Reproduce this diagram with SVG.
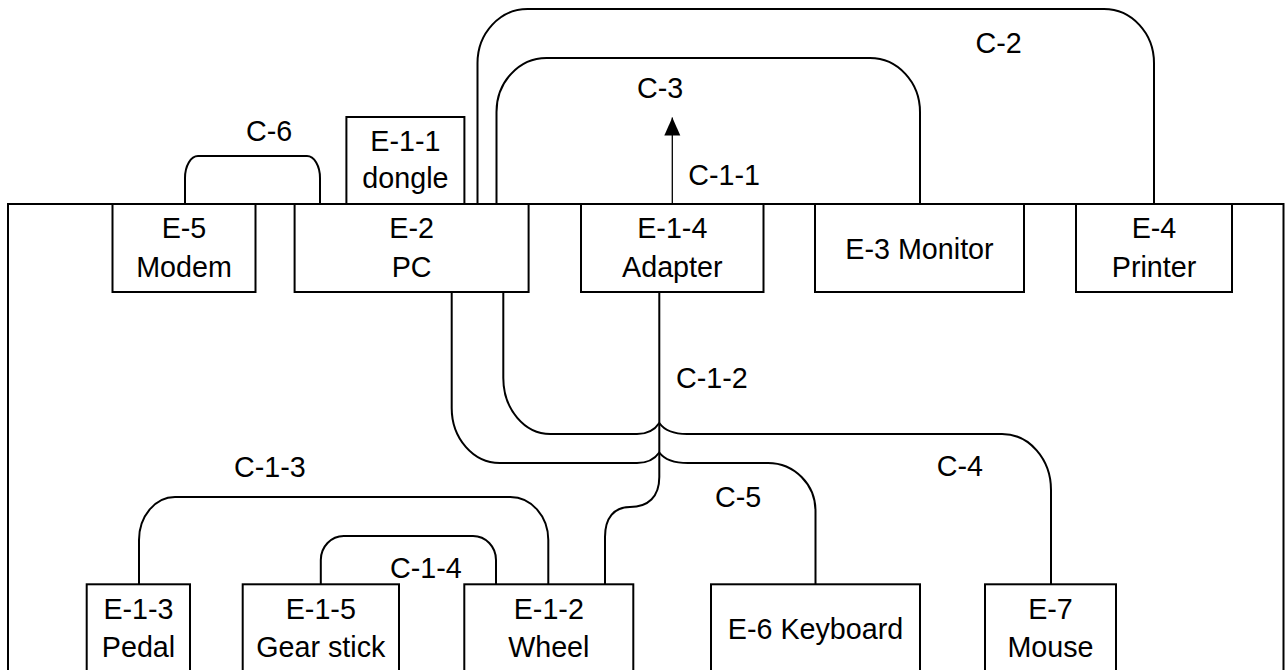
<svg xmlns="http://www.w3.org/2000/svg" width="1287" height="670" viewBox="0 0 1287 670">
<style>
.box{fill:#fff;stroke:#000;stroke-width:2}
.frame{fill:none;stroke:#000;stroke-width:2}
.t{font-family:"Liberation Sans",Arial,sans-serif;font-size:28.7px;fill:#000;text-anchor:middle}
.lbl{font-family:"Liberation Sans",Arial,sans-serif;font-size:28.7px;fill:#000}
.c{fill:none;stroke:#000;stroke-width:2}
.thin{fill:none;stroke:#000;stroke-width:1.3}
</style>
<defs>
<marker id="arr" markerUnits="userSpaceOnUse" markerWidth="20" markerHeight="20" viewBox="0 0 20 20" refX="18" refY="10" orient="auto">
<path d="M0 2 L18 10 L0 18 Z" fill="#000"/>
</marker>
</defs>
<rect width="1287" height="670" fill="#fff"/>
<g id="frame"><path class="frame" d="M8 700 V204 H1283.5 V700"/></g>
<g id="connectors">
<path class="c" d="M185 204 V178 A13 22 0 0 1 198 156 H307 A13 22 0 0 1 320 178 V204"/>
<path class="c" d="M477.5 204 V63 A50 54 0 0 1 527.5 9 H1104 A50 54 0 0 1 1154 63 V204"/>
<path class="c" d="M496.5 204 V112 A50 54 0 0 1 546.5 58 H870 A50 54 0 0 1 920 112 V204"/>
<path class="thin" d="M672.3 204 V117.5" marker-end="url(#arr)"/>
<path class="c" d="M503.3 292 V378 A47 56 0 0 0 550.3 434 H637 Q652 434 659.3 423 Q667 434 687 434 H1002 A49 56 0 0 1 1051 490 V584"/>
<path class="c" d="M451.7 292 V408 A48 55 0 0 0 499.7 463 H637 Q652 463 659.3 452.5 Q667 463 688 463 H768 A47.5 48 0 0 1 815.5 511 V584"/>
<path class="c" d="M659.3 292 V477 C659.3 497 648 507 630 507 C614 507 605 518 605 537 V584"/>
<path class="c" d="M139 584 V540 A36 43 0 0 1 175 497 H510.3 A38 43 0 0 1 548.3 540 V584"/>
<path class="c" d="M320.8 584 V560 A23 24 0 0 1 343.8 536 H473 A23 24 0 0 1 496 560 V584"/>
<text class="lbl" x="246" y="140.7">C-6</text>
<text class="lbl" x="975.5" y="53.3">C-2</text>
<text class="lbl" x="637" y="98">C-3</text>
<text class="lbl" x="688.3" y="185">C-1-1</text>
<text class="lbl" x="676" y="388">C-1-2</text>
<text class="lbl" x="234" y="476.7">C-1-3</text>
<text class="lbl" x="390" y="578.3">C-1-4</text>
<text class="lbl" x="715" y="506.7">C-5</text>
<text class="lbl" x="936.7" y="476">C-4</text>
</g>
<g id="E-5"><rect class="box" x="112.5" y="204" width="143" height="88"/><text class="t" x="184" y="237.7">E-5</text><text class="t" x="184" y="276.7">Modem</text></g>
<g id="E-2"><rect class="box" x="294.6" y="204" width="234" height="88"/><text class="t" x="411.6" y="237.7">E-2</text><text class="t" x="411.6" y="276.7">PC</text></g>
<g id="E-1-1"><rect class="box" x="346.4" y="117" width="118" height="87"/><text class="t" x="405.4" y="150.7">E-1-1</text><text class="t" x="405.4" y="187.5">dongle</text></g>
<g id="E-1-4"><rect class="box" x="581" y="204" width="182.5" height="88"/><text class="t" x="672.3" y="238">E-1-4</text><text class="t" x="672.3" y="276.7">Adapter</text></g>
<g id="E-3"><rect class="box" x="815" y="204" width="209" height="88"/><text class="t" x="919.5" y="259">E-3 Monitor</text></g>
<g id="E-4"><rect class="box" x="1076" y="204" width="156" height="88"/><text class="t" x="1154" y="238">E-4</text><text class="t" x="1154" y="276.7">Printer</text></g>
<g id="E-1-3"><rect class="box" x="86.7" y="584.3" width="103.3" height="120"/><text class="t" x="138.5" y="618.5">E-1-3</text><text class="t" x="138.5" y="657">Pedal</text></g>
<g id="E-1-5"><rect class="box" x="242.7" y="584.3" width="156.3" height="120"/><text class="t" x="320.8" y="618.5">E-1-5</text><text class="t" x="320.8" y="657">Gear stick</text></g>
<g id="E-1-2"><rect class="box" x="464.3" y="584.3" width="169" height="120"/><text class="t" x="548.8" y="618.5">E-1-2</text><text class="t" x="548.8" y="657">Wheel</text></g>
<g id="E-6"><rect class="box" x="711" y="584.3" width="209" height="120"/><text class="t" x="815.5" y="638.5">E-6 Keyboard</text></g>
<g id="E-7"><rect class="box" x="985" y="584.3" width="131" height="120"/><text class="t" x="1050.5" y="618.5">E-7</text><text class="t" x="1050.5" y="657">Mouse</text></g>
</svg>
